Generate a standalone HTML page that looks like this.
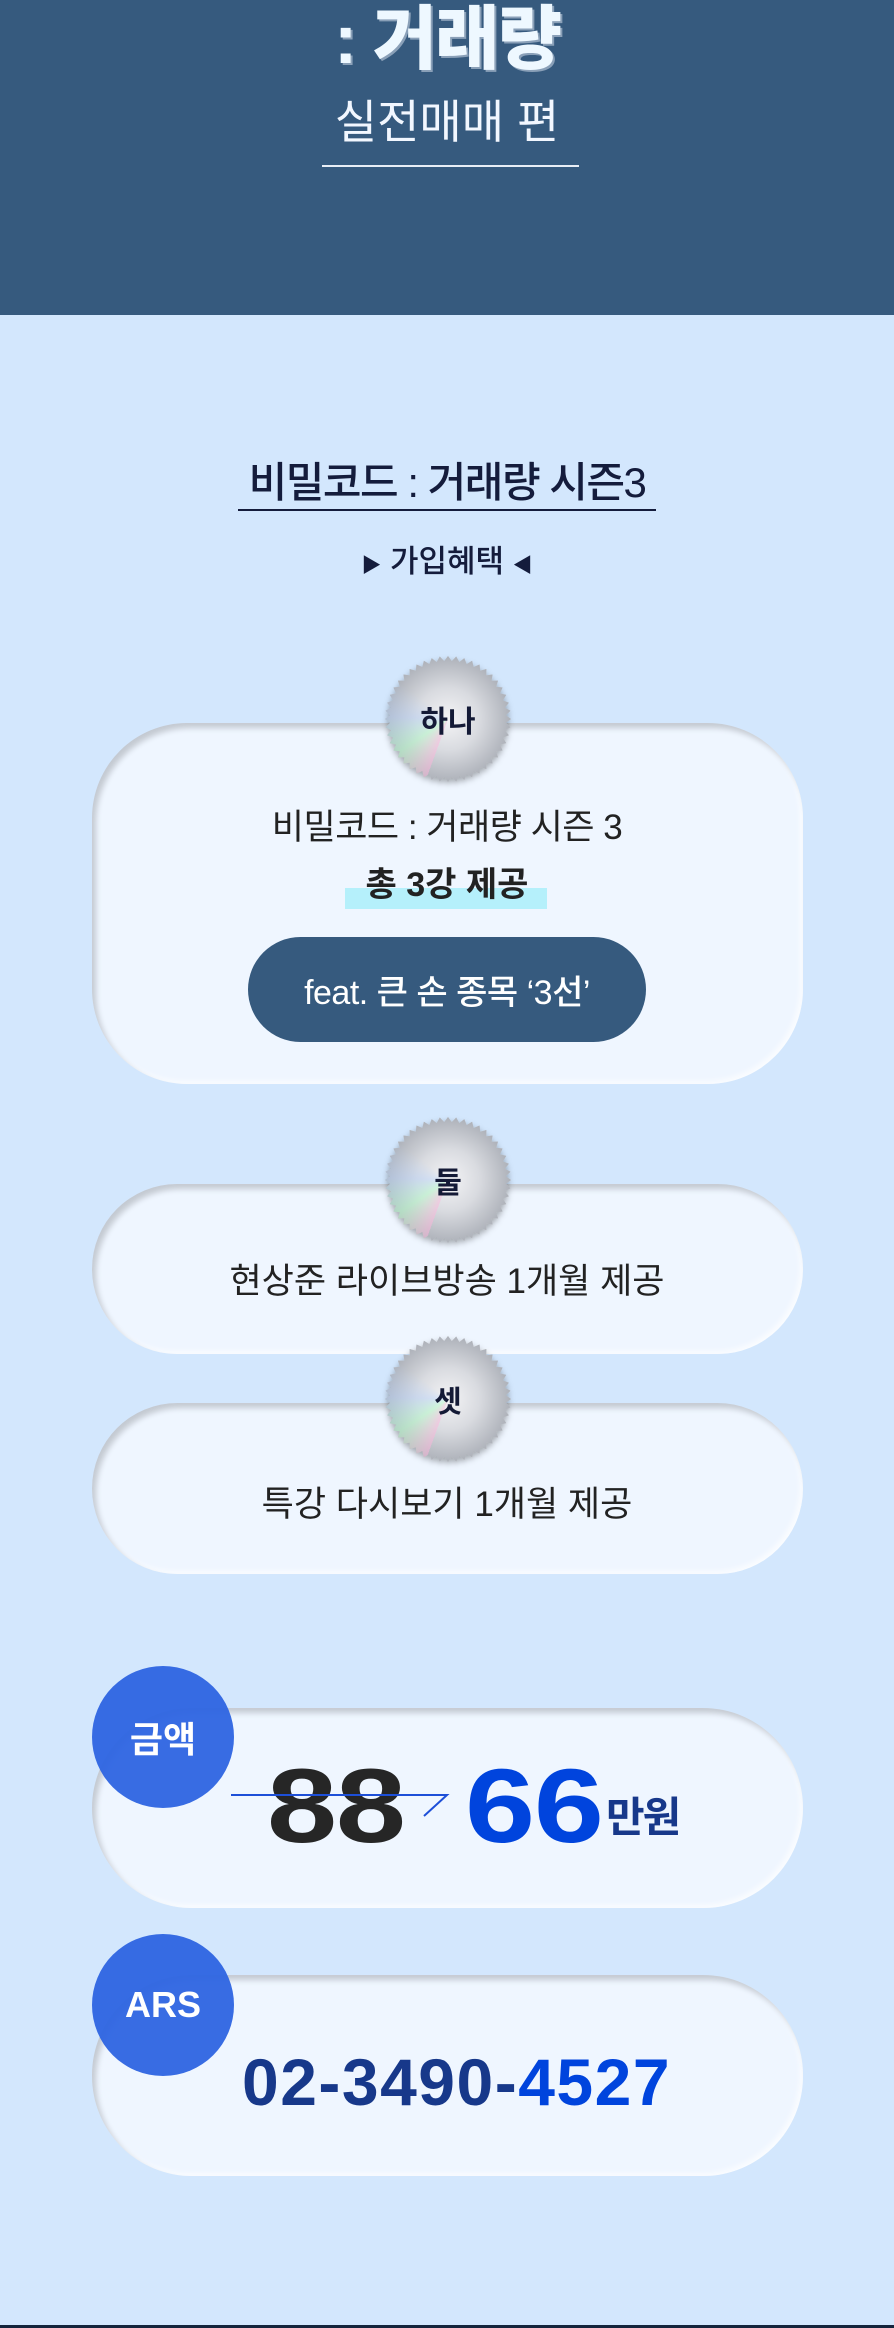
<!DOCTYPE html>
<html><head><meta charset="utf-8">
<style>
*{margin:0;padding:0;box-sizing:border-box}
body{width:894px;height:2328px;background:#d3e7fd;font-family:"Liberation Sans","Noto Sans CJK KR",sans-serif;position:relative;overflow:hidden;color:#1b2340}
.hdr{position:absolute;left:0;top:0;width:894px;height:315px;background:#365a7e}
.abs{position:absolute;white-space:nowrap}
.c{left:0;width:894px;text-align:center}
.card{position:absolute;left:92px;width:711px;background:#eff6ff;border-radius:95px;box-shadow:inset 4px 5px 6px rgba(0,0,0,.18),inset -3px -3px 6px rgba(255,255,255,.7)}
.seal{position:absolute;width:126px;height:126px;filter:drop-shadow(0 3px 3px rgba(0,0,0,.3))}
.seal .in{width:100%;height:100%;background:radial-gradient(circle at 50% 50%,#f4f4f6 0,#d9dbe0 35%,#aeb2ba 70%,#eceef2 100%),#ccc;display:flex;align-items:center;justify-content:center;font-weight:700;font-size:30px;color:#141a36;position:relative}
.seal .in::before{content:"";position:absolute;inset:0;background:conic-gradient(from 200deg,rgba(255,180,220,.5),rgba(180,255,200,.5),rgba(180,210,255,.4),rgba(255,255,255,0) 30%,rgba(255,255,255,0) 100%);}
.seal .in span{position:relative}
.blue{position:absolute;width:142px;height:142px;border-radius:50%;background:rgba(45,100,225,.95);color:#fff;font-weight:700;font-size:36px;display:flex;align-items:center;justify-content:center}
.num{position:absolute;font-size:105px;font-weight:900;line-height:105px;transform:scaleX(1.2);transform-origin:left;letter-spacing:-1px}
</style></head><body>
<div class="hdr"></div>
<div class="abs c" style="top:2px;font-size:70px;font-weight:900;color:#eef8ff;line-height:74px;text-shadow:2px 2px 0 #8aa0b8;letter-spacing:-2px">: 거래량</div>
<div class="abs c" style="top:92px;font-size:46px;color:#f2f7ff;line-height:60px">실전매매 편</div>
<div class="abs" style="left:322px;top:165px;width:257px;height:2px;background:#e8eef6"></div>

<div class="abs c" style="top:454px;font-size:42px;font-weight:500;color:#141c3c;line-height:58px;letter-spacing:-1.5px">비밀코드 : 거래량 시즌3</div>
<div class="abs" style="left:238px;top:509px;width:418px;height:2px;background:#141c3c"></div>
<div class="abs c" style="top:540px;font-size:31px;font-weight:500;color:#141c3c;line-height:44px"><span style="font-size:20px">▶</span> 가입혜택 <span style="font-size:20px">◀</span></div>

<div class="card" style="top:723px;height:361px"></div>
<div class="abs c" style="top:804px;font-size:35px;color:#222;line-height:48px;letter-spacing:-.5px">비밀코드 : 거래량 시즌 3</div>
<div class="abs" style="left:345px;top:888px;width:202px;height:21px;background:#b5f0fb"></div>
<div class="abs c" style="top:861px;font-size:34px;font-weight:700;color:#222;line-height:48px">총 3강 제공</div>
<div class="abs" style="left:248px;top:937px;width:398px;height:105px;border-radius:53px;background:#365a7e;color:#fff;font-size:34px;font-weight:500;display:flex;align-items:center;justify-content:center;letter-spacing:-.5px">feat. 큰 손 종목 ‘3선’</div>

<div class="card" style="top:1184px;height:170px"></div>
<div class="abs c" style="top:1258px;font-size:35px;color:#222;line-height:48px">현상준 라이브방송 1개월 제공</div>
<div class="card" style="top:1403px;height:171px"></div>
<div class="abs c" style="top:1481px;font-size:35px;color:#222;line-height:48px">특강 다시보기 1개월 제공</div>

<div class="seal" style="left:385px;top:656px"><div class="in"><span>하나</span></div></div>
<div class="seal" style="left:385px;top:1117px"><div class="in"><span>둘</span></div></div>
<div class="seal" style="left:385px;top:1336px"><div class="in"><span>셋</span></div></div>

<div class="card" style="top:1708px;height:200px;border-radius:100px"></div>
<div class="blue" style="left:92px;top:1666px">금액</div>
<div class="num" style="left:267px;top:1754px;color:#262626">88</div>
<div class="num" style="left:465px;top:1754px;color:#0044dd">66</div>
<div class="abs" style="left:606px;top:1790px;font-size:42px;font-weight:700;color:#17388a;line-height:56px;letter-spacing:-2px">만원</div>
<svg class="abs" style="left:0;top:0" width="894" height="2328"><polyline points="231,1795 447,1795 424,1816" fill="none" stroke="#1d4fd8" stroke-width="2"/></svg>

<div class="card" style="top:1975px;height:201px;border-radius:100px"></div>
<div class="blue" style="left:92px;top:1934px">ARS</div>
<div class="abs" style="left:242px;top:2042px;font-size:66px;font-weight:700;line-height:80px;color:#17388a;letter-spacing:1.5px">02-3490-<span style="color:#0044dd">4527</span></div>

<div class="abs" style="left:0;top:2325px;width:894px;height:3px;background:#14243c"></div>
<script>
var pts=[],n=48;for(var i=0;i<n*2;i++){var a=i*Math.PI/n,r=i%2?46:50;pts.push((50+r*Math.cos(a)).toFixed(2)+'% '+(50+r*Math.sin(a)).toFixed(2)+'%');}
document.querySelectorAll('.seal .in').forEach(function(e){e.style.clipPath='polygon('+pts.join(',')+')';});
</script>
</body></html>
